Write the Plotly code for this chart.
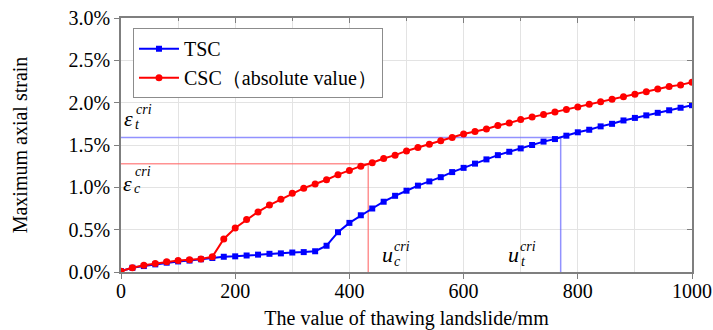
import plotly.graph_objects as go

x_mm = list(range(0, 1001, 20))
tsc = [0.01, 0.05, 0.07, 0.09, 0.11, 0.125, 0.135, 0.15, 0.165, 0.18,
       0.185, 0.195, 0.205, 0.215, 0.22, 0.23, 0.235, 0.245, 0.31, 0.47,
       0.58, 0.67, 0.75, 0.83, 0.90, 0.96, 1.02, 1.07, 1.12, 1.18,
       1.23, 1.28, 1.33, 1.38, 1.42, 1.46, 1.50, 1.54, 1.57, 1.61,
       1.65, 1.68, 1.72, 1.75, 1.79, 1.82, 1.85, 1.88, 1.91, 1.94, 1.97]
csc = [0.01, 0.05, 0.08, 0.10, 0.12, 0.135, 0.145, 0.155, 0.18, 0.39,
       0.52, 0.62, 0.71, 0.79, 0.86, 0.93, 0.99, 1.04, 1.09, 1.15,
       1.20, 1.25, 1.29, 1.34, 1.38, 1.43, 1.47, 1.51, 1.55, 1.59,
       1.63, 1.66, 1.69, 1.73, 1.76, 1.80, 1.83, 1.86, 1.89, 1.92,
       1.95, 1.98, 2.01, 2.04, 2.07, 2.10, 2.13, 2.16, 2.19, 2.21, 2.24]

eps_t_cri = 1.59
eps_c_cri = 1.28
u_t_cri = 770
u_c_cri = 433

FONT = "Liberation Serif"
BLUE = "#0000ff"
RED = "#ff0000"

fig = go.Figure()

# critical guide lines
fig.add_trace(go.Scatter(x=[0, u_t_cri, u_t_cri], y=[eps_t_cri, eps_t_cri, 0],
                         mode="lines", line=dict(color="rgba(100,100,255,0.7)", width=1.5),
                         showlegend=False, hoverinfo="skip"))
fig.add_trace(go.Scatter(x=[0, u_c_cri, u_c_cri], y=[eps_c_cri, eps_c_cri, 0],
                         mode="lines", line=dict(color="rgba(255,100,100,0.7)", width=1.5),
                         showlegend=False, hoverinfo="skip"))

fig.add_trace(go.Scatter(x=x_mm, y=tsc, mode="lines+markers", name="TSC",
                         line=dict(color=BLUE, width=2),
                         marker=dict(symbol="square", size=6, color=BLUE)))
fig.add_trace(go.Scatter(x=x_mm, y=csc, mode="lines+markers", name="CSC（absolute value）",
                         line=dict(color=RED, width=2),
                         marker=dict(symbol="circle", size=7, color=RED)))

# invisible trace for the mirrored axes
fig.add_trace(go.Scatter(x=[0, 1000], y=[0, 3], xaxis="x2", yaxis="y2",
                         mode="markers", marker=dict(opacity=0), showlegend=False,
                         hoverinfo="skip"))

ann = []
def sym(text, x, y, size, xanchor="center"):
    ann.append(dict(text=text, x=x, y=y, xref="x", yref="y", showarrow=False,
                    xanchor=xanchor, yanchor="middle",
                    font=dict(family=FONT, size=size, color="black")))

sym("<i>ε</i>", 14, 1.81, 22)
sym("<i>cri</i>", 22, 1.92, 14, "left")
sym("<i>t</i>", 21, 1.74, 14, "left")
sym("<i>ε</i>", 11, 1.05, 22)
sym("<i>cri</i>", 21, 1.185, 14, "left")
sym("<i>c</i>", 20, 0.99, 14, "left")
sym("<i>u</i>", 467, 0.21, 22)
sym("<i>cri</i>", 474, 0.305, 14, "left")
sym("<i>c</i>", 474, 0.125, 14, "left")
sym("<i>u</i>", 688, 0.21, 22)
sym("<i>cri</i>", 696, 0.305, 14, "left")
sym("<i>t</i>", 697, 0.125, 14, "left")

axis_line = "#7f7f7f"
grid = "#e3e3e3"

fig.update_layout(
    width=713, height=330,
    margin=dict(l=121, r=21, t=18, b=58, autoexpand=False),
    paper_bgcolor="white", plot_bgcolor="white",
    font=dict(family=FONT, size=20, color="black"),
    annotations=ann,
    legend=dict(x=0.021, y=0.96, xanchor="left", yanchor="top",
                bordercolor="#8c8c8c", borderwidth=1, bgcolor="white",
                font=dict(family=FONT, size=20, color="black"), tracegroupgap=0,
                itemwidth=40),
    xaxis=dict(range=[0, 1000], dtick=200, tick0=0, showgrid=True, gridcolor=grid,
               ticks="outside", ticklen=5, tickcolor=axis_line,
               showline=True, linecolor=axis_line, linewidth=1.5, mirror=True,
               zeroline=False, automargin=False, ticklabelstandoff=-5,
               minor=dict(dtick=100, showgrid=True, gridcolor=grid, ticks=""),
               title=dict(text="The value of thawing landslide/mm", standoff=13,
                          font=dict(family=FONT, size=20, color="black")),
               tickfont=dict(family=FONT, size=20, color="black")),
    yaxis=dict(range=[0, 3], dtick=0.5, tick0=0, tickformat=".1f", ticksuffix="%",
               showgrid=True, gridcolor=grid, ticks="outside", ticklen=5,
               tickcolor=axis_line, showline=True, linecolor=axis_line,
               linewidth=1.5, mirror=True, zeroline=False, automargin=False,
               title=dict(text="Maximum axial strain", standoff=36,
                          font=dict(family=FONT, size=20, color="black")),
               tickfont=dict(family=FONT, size=20, color="black")),
    xaxis2=dict(range=[0, 1000], overlaying="x", side="top", dtick=200, tick0=0,
                ticks="inside", ticklen=5, tickcolor=axis_line, showticklabels=False,
                showgrid=False, zeroline=False,
                minor=dict(dtick=100, ticks="inside", ticklen=3, tickcolor=axis_line)),
    yaxis2=dict(range=[0, 3], overlaying="y", side="right", dtick=0.5, tick0=0,
                ticks="inside", ticklen=5, tickcolor=axis_line, showticklabels=False,
                showgrid=False, zeroline=False),
)

fig.write_html("out.html")
